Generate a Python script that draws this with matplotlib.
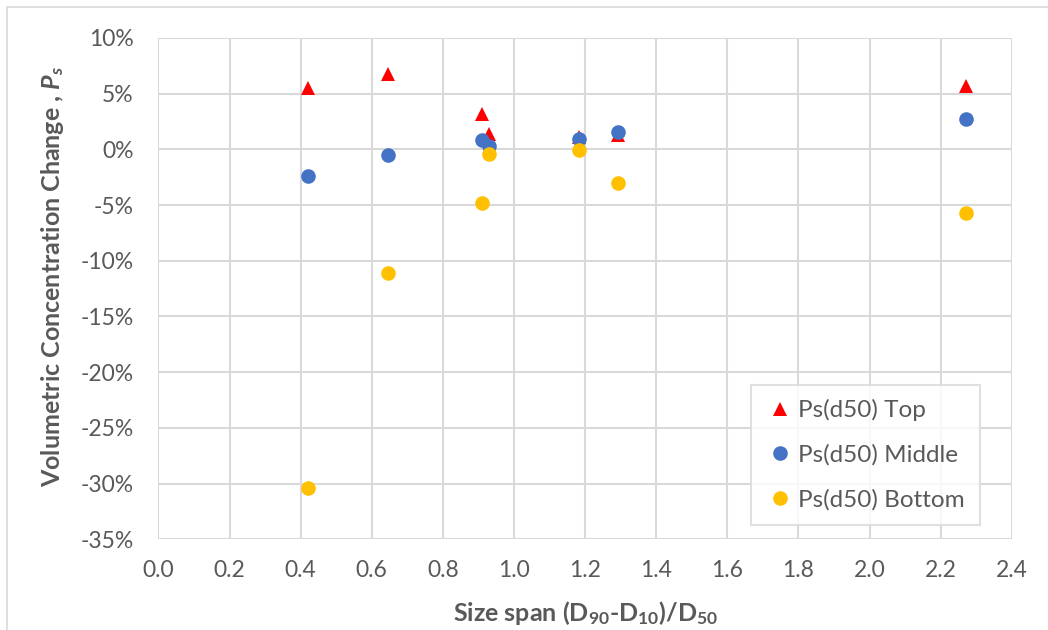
import matplotlib
matplotlib.use("Agg")
import matplotlib.pyplot as plt
from matplotlib.ticker import FuncFormatter, MultipleLocator
from matplotlib.patches import Rectangle

# Data
span = [0.42, 0.646, 0.909, 0.93, 1.184, 1.292, 2.272]
top = [5.5, 6.8, 3.2, 1.4, 1.1, 1.3, 5.7]
middle = [-2.4, -0.5, 0.8, 0.3, 0.9, 1.6, 2.7]
bottom = [-30.4, -11.1, -4.85, -0.4, -0.1, -3.0, -5.7]

labels = ["Ps(d50) Top", "Ps(d50) Middle", "Ps(d50) Bottom"]
colors = ["#FF0000", "#4472C4", "#FFC000"]

plt.rcParams['font.family'] = ['Lato', 'DejaVu Sans']
plt.rcParams['mathtext.fontset'] = 'custom'
plt.rcParams['mathtext.rm'] = 'Lato:bold'
plt.rcParams['mathtext.it'] = 'Lato:bold:italic'
plt.rcParams['mathtext.bf'] = 'Lato:bold'

fig = plt.figure(figsize=(10.48, 6.3), dpi=100)
ax = fig.add_axes([0.1512, 0.1441, 0.8142, 0.7957])

ax.plot(span, top, linestyle='none', marker='^', markersize=10.5, color=colors[0],
        markeredgewidth=0, label=labels[0], zorder=3)
ax.plot(span, middle, linestyle='none', marker='o', markersize=10.5, color=colors[1],
        markeredgewidth=0, label=labels[1], zorder=3)
ax.plot(span, bottom, linestyle='none', marker='o', markersize=10.5, color=colors[2],
        markeredgewidth=0, label=labels[2], zorder=3)

ax.set_xlim(0, 2.4)
ax.set_ylim(-35, 10)
ax.xaxis.set_major_locator(MultipleLocator(0.2))
ax.yaxis.set_major_locator(MultipleLocator(5))
ax.xaxis.set_major_formatter(FuncFormatter(lambda v, p: f"{v:.1f}"))
ax.yaxis.set_major_formatter(FuncFormatter(lambda v, p: f"{v:.0f}%"))

for s in ax.spines.values():
    s.set_visible(False)
ax.grid(True, color='#D9D9D9', linewidth=1.5, zorder=0)
ax.set_axisbelow(True)
ax.tick_params(length=0, labelsize=16.5, colors='#595959')
ax.tick_params(axis='x', pad=15)
ax.tick_params(axis='y', pad=18)

ax.set_xlabel(r"Size span (D$_{90}$-D$_{10}$)/D$_{50}$", fontsize=18,
              fontweight='bold', color='#595959')
ax.xaxis.set_label_coords(0.5, -0.12)
ax.xaxis.label.set_va('top')
ax.set_ylabel(r"Volumetric Concentration Change , $P_s$", fontsize=18,
              fontweight='bold', color='#595959')
ax.yaxis.set_label_coords(-0.124, 0.525)
ax.yaxis.label.set_va('center')

leg = ax.legend(loc='lower right', bbox_to_anchor=(0.9623, 0.0283), fontsize=17.5,
                frameon=True, fancybox=False, labelspacing=0.95, handletextpad=0.15,
                borderpad=0.6, handlelength=1.2, borderaxespad=0)
leg.get_frame().set_edgecolor('#D9D9D9')
leg.get_frame().set_linewidth(1.5)
for t in leg.get_texts():
    t.set_color('#595959')

fig.patches.append(Rectangle((7/1048, -0.1), 2, 1 - 7/630 + 0.1, transform=fig.transFigure,
                             fill=False, edgecolor='#D9D9D9', linewidth=1.2))

fig.savefig("out.png", dpi=100)
